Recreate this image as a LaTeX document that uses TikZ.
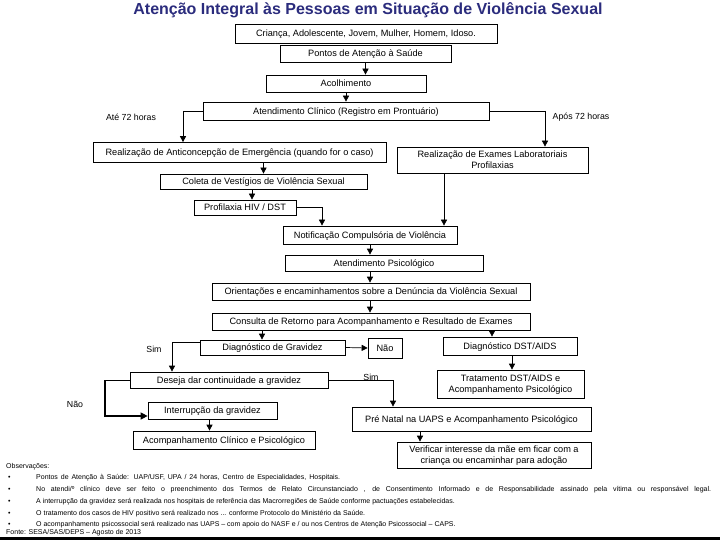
\documentclass[tikz,border=0pt]{standalone}
\usepackage{fontspec}
\setmainfont{Liberation Sans}
\usetikzlibrary{arrows.meta,calc}
\definecolor{titleblue}{RGB}{43,44,125}
\begin{document}
\begin{tikzpicture}[x=1pt,y=-1pt,
  bx/.style={draw=black, line width=0.7pt, inner sep=0pt, align=center, text depth=0.4pt, font=\fontsize{9.2}{11}\selectfont},
  sz/.style 2 args={minimum width=#1pt, minimum height=#2pt},
  lnk/.style={line width=0.7pt},
  arr/.style={line width=0.7pt,-{Triangle[length=6pt,width=6pt]}},
  lbl/.style={font=\fontsize{8.8}{10}\selectfont, inner sep=0pt},
  obs/.style={font=\fontsize{7}{8}\selectfont, inner sep=0pt, anchor=west}]
\useasboundingbox (0,0) rectangle (720,540);
\fill[white] (0,0) rectangle (720,540);
\fill[black] (0,536.5) rectangle (720,540);

\node[font=\fontsize{16}{18}\selectfont\bfseries, text=titleblue, inner sep=0pt] (title) at (368,10) {Atenção Integral às Pessoas em Situação de Violência Sexual};

\node[bx, sz={262}{19}] (b1) at (366,33.5) {Criança, Adolescente, Jovem, Mulher, Homem, Idoso.};
\node[bx, sz={171}{17}] (b2) at (365.5,53.5) {Pontos de Atenção à Saúde};
\node[bx, sz={160}{17}] (acol) at (346,83.5) {Acolhimento};
\node[bx, sz={286}{18}] (aten) at (346,111) {Atendimento Clínico (Registro em Prontuário)};
\node[bx, sz={293}{20}] (ae) at (239.5,152.5) {Realização de Anticoncepção de Emergência (quando for o caso)};
\node[bx, sz={191}{26}] (exam) at (492.5,160) {Realização de Exames Laboratoriais\\Profilaxias};
\node[bx, sz={207}{15}] (coleta) at (263.5,181.5) {Coleta de Vestígios de Violência Sexual};
\node[bx, sz={102}{15}] (prof) at (245,207.5) {Profilaxia HIV / DST};
\node[bx, sz={174}{18}] (notif) at (370,235) {Notificação Compulsória de Violência};
\node[bx, sz={198}{16}] (psico) at (384,263) {Atendimento Psicológico};
\node[bx, sz={318}{17}] (orient) at (371,291.5) {Orientações e encaminhamentos sobre a Denúncia da Violência Sexual};
\node[bx, sz={318}{17}] (consulta) at (371,321.5) {Consulta de Retorno para Acompanhamento e Resultado de Exames};
\node[bx, sz={145}{15}] (dgrav) at (272.5,347.5) {Diagnóstico de Gravidez};
\node[bx, sz={34}{20}] (nao) at (385,348) {Não};
\node[bx, sz={134}{18}] (ddst) at (510,346) {Diagnóstico DST/AIDS};
\node[bx, sz={147}{28}] (trat) at (510.5,384) {Tratamento DST/AIDS e\\Acompanhamento Psicológico};
\node[bx, sz={198}{16}] (deseja) at (229,380) {Deseja dar continuidade a gravidez};
\node[bx, sz={129}{17}] (interr) at (212.5,410.5) {Interrupção da gravidez};
\node[bx, sz={182}{18}] (acomp) at (224,440) {Acompanhamento Clínico e Psicológico};
\node[bx, sz={239}{24}] (prenatal) at (471.5,419) {Pré Natal na UAPS e Acompanhamento Psicológico};
\node[bx, sz={194}{26}] (verif) at (494,455) {Verificar interesse da mãe em ficar com a\\criança ou encaminhar para adoção};

\node[lbl] (l72a) at (131,117) {Até 72 horas};
\node[lbl] (l72b) at (581,117) {Após 72 horas};
\node[lbl] (sim1) at (154,349) {Sim};
\node[lbl] (sim2) at (371,377) {Sim};
\node[lbl] (nao2) at (75,404) {Não};

\coordinate (cL) at (183,111);
\coordinate (cR) at (545,111);
\coordinate (cP) at (322,207.5);
\coordinate (cS) at (172,342.5);
\coordinate (cD) at (393,380);
\coordinate (cN1) at (105,380);
\coordinate (cN2) at (105,416);

\draw[arr] (b2.south) -- (b2.south |- acol.north);
\draw[arr] (acol.south) -- (aten.north);
\draw[lnk] (aten.west) -- (cL);
\draw[arr] (cL) -- (cL |- ae.north);
\draw[lnk] (aten.east) -- (cR);
\draw[arr] (cR) -- (cR |- exam.north);
\draw[arr] (coleta.north |- ae.south) -- (coleta.north);
\draw[arr] ([xshift=7pt]prof.north |- coleta.south) -- ([xshift=7pt]prof.north);
\draw[lnk] (prof.east) -- (cP);
\draw[arr] (cP) -- (cP |- notif.north);
\draw[arr] ([xshift=-48.5pt]exam.south) -- ([xshift=-48.5pt]exam.south |- notif.north);
\draw[arr] (notif.south) -- (notif.south |- psico.north);
\draw[arr] (notif.south |- psico.south) -- (notif.south |- orient.north);
\draw[arr] (notif.south |- orient.south) -- (notif.south |- consulta.north);
\draw[arr] ([xshift=-10.5pt]dgrav.north |- consulta.south) -- ([xshift=-10.5pt]dgrav.north);
\draw[arr] ([xshift=-18pt]ddst.north |- consulta.south) -- ([xshift=-18pt]ddst.north);
\draw[arr] (dgrav.east) -- (nao.west);
\draw[lnk] (dgrav.west |- cS) -- (cS);
\draw[arr] (cS) -- (cS |- deseja.north);
\draw[arr] ([xshift=2pt]ddst.south) -- ([xshift=2pt]ddst.south |- trat.north);
\draw[lnk] (deseja.east) -- (cD);
\draw[arr] (cD) -- (cD |- prenatal.north);
\draw[lnk] (deseja.west) -- (cN1);
\draw[line width=1.3pt,-{Triangle[length=7pt,width=7pt]}] (cN1) -- (cN2) -- (interr.west |- cN2);
\draw[arr] ([xshift=-3pt]interr.south) -- ([xshift=-3pt]interr.south |- acomp.north);
\draw[arr] ([xshift=-51.5pt]prenatal.south) -- ([xshift=-51.5pt]prenatal.south |- verif.north);

\node[obs] (o0) at (6,467) {Observações:};
\node[obs] (d1) at (8,478) {•};
\node[obs] (o1) at (36,478) {\makebox[304pt][s]{Pontos de Atenção à Saúde: UAP/USF, UPA / 24 horas, Centro de Especialidades, Hospitais.}};
\node[obs] (d2) at (8,490) {•};
\node[obs] (o2) at (36,490) {\makebox[675pt][s]{No atendi/º clínico deve ser feito o preenchimento dos Termos de Relato Circunstanciado , de Consentimento Informado e de Responsabilidade assinado pela vítima ou responsável legal.}};
\node[obs] (d3) at (8,502) {•};
\node[obs] (o3) at (36,502) {A interrupção da gravidez será realizada nos hospitais de referência das Macrorregiões de Saúde conforme pactuações estabelecidas.};
\node[obs] (d4) at (8,514) {•};
\node[obs] (o4) at (36,514) {O tratamento dos casos de HIV positivo será realizado nos ... conforme Protocolo do Ministério da Saúde.};
\node[obs] (d5) at (8,525) {•};
\node[obs] (o5) at (36,525) {O acompanhamento psicossocial será realizado nas UAPS – com apoio do NASF e / ou nos Centros de Atenção Psicossocial – CAPS.};
\node[obs] (fonte) at (6,533) {Fonte: SESA/SAS/DEPS – Agosto de 2013};
\end{tikzpicture}
\end{document}
